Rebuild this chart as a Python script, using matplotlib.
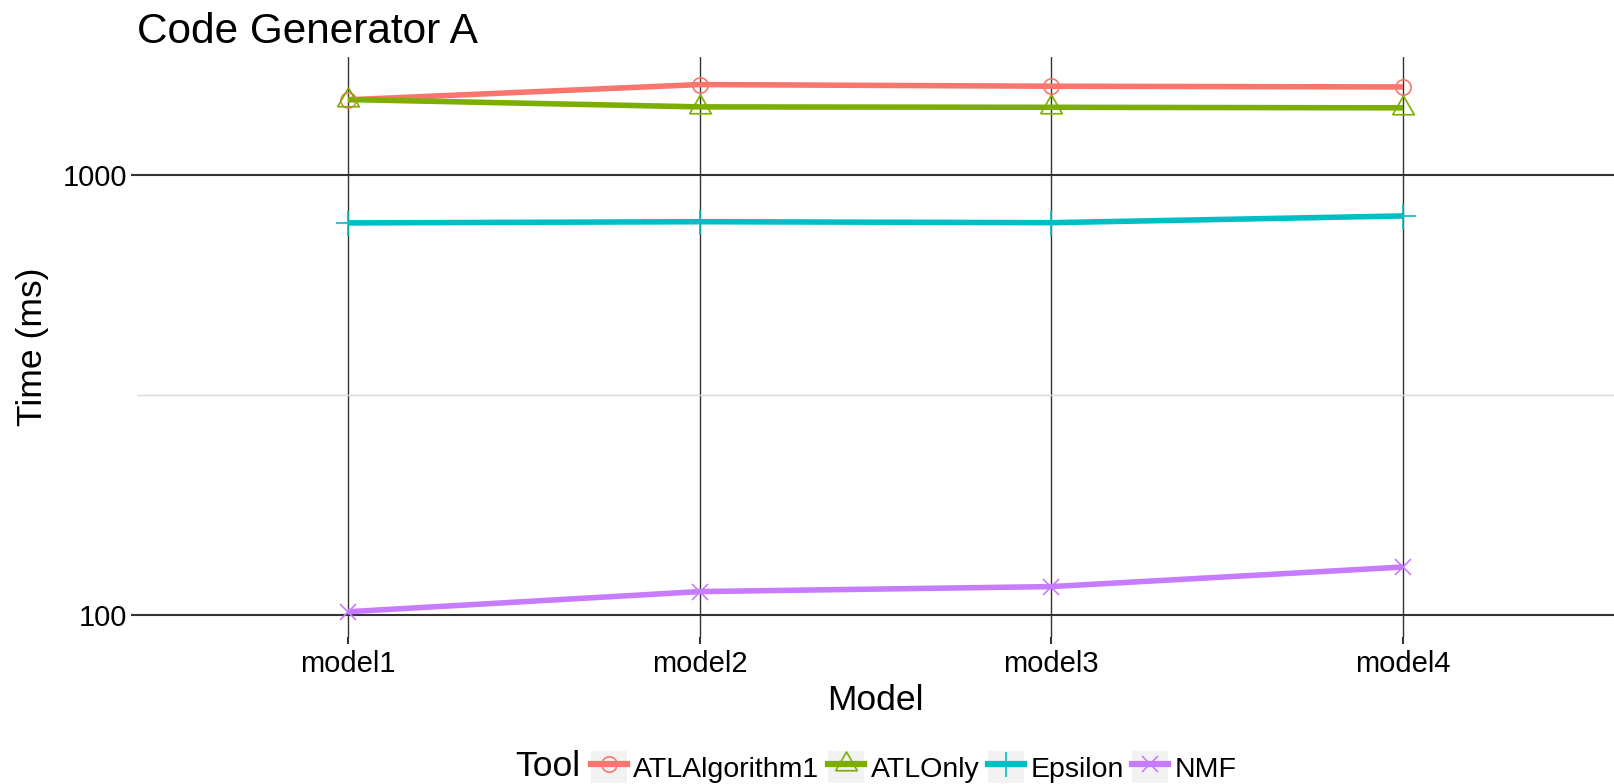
import numpy as np
import matplotlib
matplotlib.use("Agg")
import matplotlib.pyplot as plt
from matplotlib.lines import Line2D
from matplotlib.patches import Rectangle
from matplotlib.legend_handler import HandlerTuple
from matplotlib.ticker import FixedLocator, NullFormatter

plt.rcParams['font.family'] = ['Liberation Sans', 'DejaVu Sans']

# data
models = ['model1', 'model2', 'model3', 'model4']
atl_algorithm1 = [1482, 1605, 1591, 1585]
atl_only = [1484, 1428, 1425, 1421]
epsilon = [778, 783, 779, 807]
nmf = [101.7, 113, 116, 128.5]

tools = ['ATLAlgorithm1', 'ATLOnly', 'Epsilon', 'NMF']
series = [atl_algorithm1, atl_only, epsilon, nmf]
colors = ['#F8766D', '#7CAE00', '#00BFC4', '#C77CFF']

# equilateral triangle centred on its centroid (like ggplot shape 2)
tri = [(-1, -0.577), (1, -0.577), (0, 1.155), (-1, -0.577)]
markers = ['o', tri, '+', 'x']
msizes = [11, 18, 18, 12]

W, H = 1614, 784
fig = plt.figure(figsize=(W / 100, H / 100), dpi=100)
ax = fig.add_axes([137 / W, 1 - 637 / H, (W - 137) / W, (637 - 57) / H])

x = np.arange(1, len(models) + 1)

# lines first, then points on top
for vals, c in zip(series, colors):
    ax.plot(x, vals, color=c, lw=4, solid_capstyle='butt', zorder=3)
for vals, c, m, s in zip(series, colors, markers, msizes):
    ax.plot(x, vals, ls='none', marker=m, ms=s, mfc='none', mec=c, mew=1.2, zorder=4)

ax.set_yscale('log')
ax.set_ylim(89.1, 1854)
ax.set_xlim(0.4, 4.6)
ax.yaxis.set_major_locator(FixedLocator([100, 1000]))
ax.yaxis.set_minor_locator(FixedLocator([10 ** 2.5]))
ax.yaxis.set_minor_formatter(NullFormatter())
ax.set_yticklabels(['100', '1000'])
ax.set_xticks(x)
ax.set_xticklabels(models)

for sp in ax.spines.values():
    sp.set_visible(False)

ax.grid(True, which='major', axis='x', color='#333333', lw=1.0, zorder=1)
ax.grid(True, which='major', axis='y', color='#333333', lw=1.5, zorder=1)
ax.grid(True, which='minor', axis='y', color='#d9d9d9', lw=1.0, zorder=1)
ax.tick_params(axis='y', which='major', length=4, width=1.5, color='#333333',
               labelsize=21, pad=3, labelcolor='black')
ax.tick_params(axis='y', which='minor', length=0)
ax.tick_params(axis='x', length=5, width=1.5, color='#333333',
               labelsize=21, pad=4, labelcolor='black')

ax.set_xlabel('Model', fontsize=25.5, labelpad=5)
ax.set_ylabel('Time (ms)', fontsize=25.5, labelpad=10)

fig.text(137 / W, 1 - 43 / H, 'Code Generator A', fontsize=30.5, ha='left', va='baseline')

# legend with grey key backgrounds, title on the left
handles = []
for c, m, s in zip(colors, markers, msizes):
    bg = Rectangle((0, 0), 1, 1, facecolor='#F2F2F2', edgecolor='none')
    ln = Line2D([], [], color=c, lw=4.5, marker=m, ms=s, mfc='none', mec=c, mew=1.2)
    handles.append((bg, ln))

fig.text(515 / W, 1 - 767 / H, 'Tool', fontsize=25.5, ha='left', va='center')
fig.legend(handles, tools, handler_map={tuple: HandlerTuple(ndivide=1, pad=0)},
           loc='center left', bbox_to_anchor=(591 / W, 1 - 767 / H),
           ncol=4, frameon=False, fontsize=20.5, borderpad=0, borderaxespad=0,
           handlelength=1.27, handleheight=1.3, handletextpad=0.22,
           columnspacing=0.3)

fig.savefig('out.png', dpi=100)
